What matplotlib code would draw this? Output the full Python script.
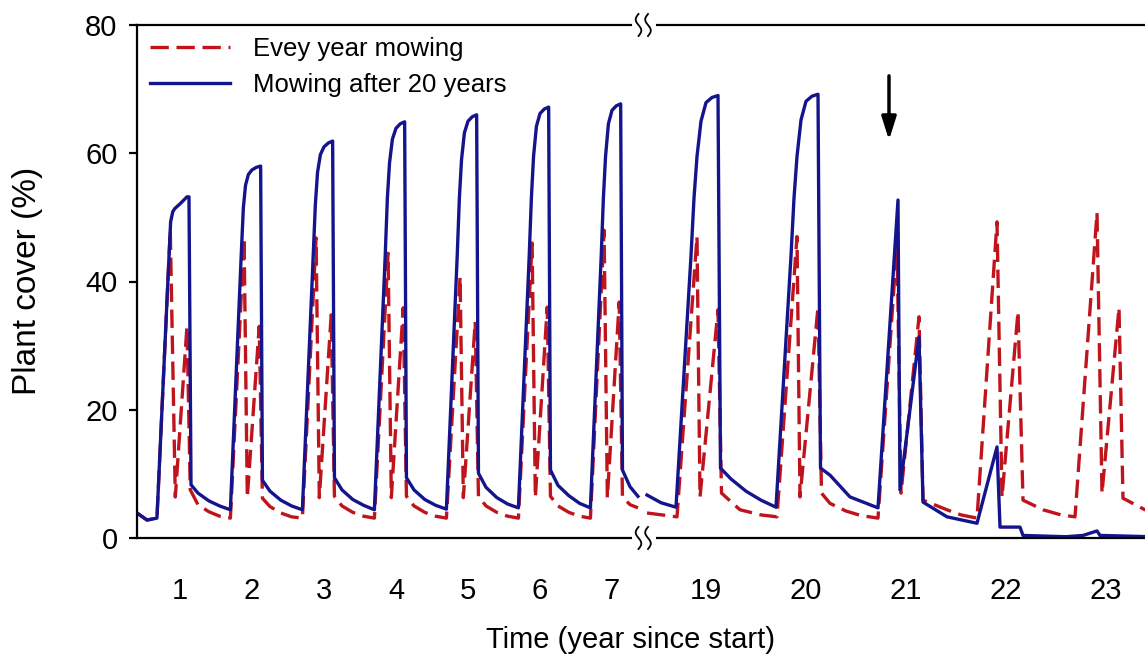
import matplotlib
matplotlib.use("Agg")
import matplotlib.pyplot as plt
from matplotlib.lines import Line2D
import numpy as np

plt.rcParams['font.family'] = ['Liberation Sans', 'DejaVu Sans']

# ---------------- data (time in years since start, cover in %) ----------------
# first period (years 1-7)
every_year_t1 = [0.403, 0.542, 0.68, 0.865, 0.935, 1.097, 1.143, 1.25, 1.40, 1.55, 1.70,
                 1.89, 1.935, 2.10, 2.145, 2.25, 2.40, 2.55, 2.70,
                 2.89, 2.935, 3.10, 3.145, 3.25, 3.40, 3.55, 3.70,
                 3.89, 3.935, 4.10, 4.145, 4.25, 4.40, 4.55, 4.70,
                 4.89, 4.935, 5.10, 5.145, 5.25, 5.40, 5.55, 5.70,
                 5.89, 5.935, 6.10, 6.145, 6.25, 6.40, 6.55, 6.70,
                 6.89, 6.935, 7.10, 7.145, 7.25, 7.36]
every_year_v1 = [3.9, 2.8, 3.1, 48.0, 6.4, 33.0, 7.5, 5.2, 4.1, 3.4, 3.1,
                 46.8, 6.3, 33.0, 6.2, 4.9, 3.9, 3.3, 3.1,
                 46.8, 6.3, 34.8, 6.5, 5.0, 4.0, 3.4, 3.1,
                 44.4, 6.3, 35.9, 6.5, 5.0, 4.0, 3.4, 3.1,
                 40.7, 6.3, 33.7, 6.5, 5.0, 4.0, 3.4, 3.1,
                 46.0, 6.3, 36.0, 6.5, 5.0, 4.0, 3.4, 3.1,
                 48.0, 6.3, 36.8, 6.4, 5.2, 4.7]

after20_t1 = [0.403, 0.542, 0.68, 0.87, 0.90, 0.93, 1.00, 1.097, 1.125, 1.153, 1.25, 1.40, 1.55, 1.70,
              1.85, 1.88, 1.91, 1.95, 2.00, 2.06, 2.12, 2.145, 2.25, 2.40, 2.55, 2.70,
              2.85, 2.88, 2.91, 2.95, 3.00, 3.06, 3.12, 3.145, 3.25, 3.40, 3.55, 3.70,
              3.85, 3.88, 3.91, 3.95, 4.00, 4.06, 4.12, 4.145, 4.25, 4.40, 4.55, 4.70,
              4.85, 4.88, 4.91, 4.95, 5.00, 5.06, 5.12, 5.145, 5.25, 5.40, 5.55, 5.70,
              5.85, 5.88, 5.91, 5.95, 6.00, 6.06, 6.12, 6.145, 6.25, 6.40, 6.55, 6.70,
              6.85, 6.88, 6.91, 6.95, 7.00, 7.06, 7.12, 7.145, 7.25, 7.36]
after20_v1 = [3.9, 2.8, 3.1, 49.3, 50.9, 51.4, 52.1, 53.2, 53.2, 8.3, 7.0, 5.8, 5.0, 4.4,
              44.0, 51.5, 55.0, 56.7, 57.4, 57.8, 58.0, 9.0, 7.3, 5.9, 5.0, 4.4,
              44.0, 52.0, 57.0, 59.8, 61.0, 61.6, 61.9, 9.4, 7.5, 6.0, 5.1, 4.4,
              44.0, 53.0, 58.5, 62.2, 63.9, 64.6, 64.9, 9.4, 7.5, 6.0, 5.1, 4.5,
              44.0, 53.0, 59.0, 63.2, 65.0, 65.7, 66.0, 10.1, 7.9, 6.3, 5.3, 4.7,
              44.0, 53.0, 59.5, 64.2, 66.2, 66.9, 67.2, 10.6, 8.2, 6.6, 5.4, 4.7,
              44.0, 53.0, 59.5, 64.6, 66.7, 67.4, 67.7, 10.6, 8.0, 6.5]

# second period (years 19-23)
every_year_t2 = [18.41, 18.71, 18.91, 18.94, 19.12, 19.155, 19.34, 19.55, 19.71,
                 19.91, 19.94, 20.12, 20.155, 20.24, 20.40, 20.55, 20.72,
                 20.91, 20.95, 21.13, 21.17, 21.41, 21.55, 21.71,
                 21.91, 21.96, 22.12, 22.17, 22.37, 22.55, 22.69,
                 22.91, 22.96, 23.13, 23.17, 23.39, 23.45]
every_year_v2 = [3.9, 3.3, 47.0, 6.4, 35.6, 7.0, 4.4, 3.6, 3.3,
                 47.0, 6.4, 36.0, 7.0, 5.4, 4.2, 3.5, 3.1,
                 46.0, 7.0, 34.5, 5.9, 4.4, 3.6, 3.1,
                 49.3, 6.4, 35.3, 5.9, 4.4, 3.6, 3.3,
                 50.7, 7.0, 35.9, 6.2, 4.4, 4.3]

after20_t2 = [18.41, 18.55, 18.70,
              18.85, 18.88, 18.91, 18.95, 19.00, 19.06, 19.12, 19.145, 19.25, 19.40, 19.55, 19.70,
              19.85, 19.88, 19.91, 19.95, 20.00, 20.06, 20.12, 20.145, 20.24, 20.44, 20.72,
              20.92, 20.94, 21.13, 21.17, 21.41, 21.71,
              21.91, 21.94, 22.14, 22.17, 22.60, 22.77, 22.91, 22.94, 23.45]
after20_v2 = [6.7, 5.5, 4.8,
              44.0, 53.0, 59.5, 65.0, 67.9, 68.7, 69.0, 10.9, 9.2, 7.3, 5.9, 4.8,
              44.0, 53.0, 59.5, 65.2, 68.1, 68.9, 69.2, 10.9, 9.8, 6.4, 4.7,
              52.7, 7.5, 31.4, 5.6, 3.3, 2.3,
              14.2, 1.7, 1.7, 0.4, 0.2, 0.4, 1.1, 0.4, 0.2]

series_labels = ["Evey year mowing", "Mowing after 20 years"]
ticks_left = [1, 2, 3, 4, 5, 6, 7]
ticks_right = [19, 20, 21, 22, 23]
y_ticks = [0, 20, 40, 60, 80]
arrow_year = 20.83

# ---------------- figure ----------------
W, H = 1145, 662
fig = plt.figure(figsize=(W / 100, H / 100), dpi=100)


def fx(px):
    return px / W


def fy(py):
    return 1 - py / H


TOP, BOT, LEFT, BRK, RIGHT = 25, 538, 137, 645, 1145
axL = fig.add_axes([fx(LEFT), fy(BOT), fx(BRK) - fx(LEFT), fy(TOP) - fy(BOT)])
axR = fig.add_axes([fx(BRK), fy(BOT), fx(RIGHT) - fx(BRK), fy(TOP) - fy(BOT)])

RED = '#C0141C'
BLUE = '#14148C'
LW = 2.4
dash = (5.5, 2.3)

axL.plot(every_year_t1, every_year_v1, color=RED, lw=LW, dashes=dash)
axL.plot(after20_t1, after20_v1, color=BLUE, lw=LW)
axR.plot(every_year_t2, every_year_v2, color=RED, lw=LW, dashes=dash)
axR.plot(after20_t2, after20_v2, color=BLUE, lw=LW)

axL.set_xlim(0.403, 7.458)
axR.set_xlim(18.39, 23.39)
for ax in (axL, axR):
    ax.set_ylim(0, 80)
    for s in ax.spines.values():
        s.set_linewidth(1.6)
    ax.tick_params(axis='x', length=0, pad=28, labelsize=21)

axL.set_xticks(ticks_left)
axR.set_xticks(ticks_right)
axL.set_yticks(y_ticks)
axL.tick_params(axis='y', length=6, width=1.6, pad=8, labelsize=21, direction='out')
axL.spines['right'].set_visible(False)
axR.spines['left'].set_visible(False)
axR.spines['right'].set_visible(False)
axR.set_yticks([])

# break marks
for yb in (TOP, BOT):
    fig.add_artist(Line2D([fx(635), fx(652)], [fy(yb), fy(yb)], color='white', lw=5,
                          transform=fig.transFigure, zorder=10))
    s = np.linspace(-1, 1, 40)
    for cx in (638.5, 648.0):
        xs = cx + 2.8 * np.sin(np.pi * s)
        ys = yb + 11 * s
        fig.add_artist(Line2D(fx(xs), fy(ys), color='black', lw=1.3,
                              transform=fig.transFigure, zorder=11))

# arrow
axR.annotate('', xy=(arrow_year, 61.6), xytext=(arrow_year, 72.5),
             arrowprops=dict(arrowstyle='-|>,head_length=0.7,head_width=0.22',
                             lw=2.5, color='black', mutation_scale=20))

# legend
handles = [Line2D([], [], color=RED, lw=LW, dashes=dash),
           Line2D([], [], color=BLUE, lw=LW)]
fig.legend(handles, series_labels, loc='upper left',
           bbox_to_anchor=(fx(150), fy(37)), frameon=False, fontsize=18.5,
           handlelength=3.1, handletextpad=0.9, labelspacing=0.45,
           borderpad=0, borderaxespad=0)

fig.text(fx(28), fy(281), 'Plant cover (%)', rotation=90, ha='center', va='center',
         fontsize=24)
fig.text(fx(630), fy(640), 'Time (year since start)', ha='center', va='center',
         fontsize=21)

fig.savefig('out.png', dpi=100)
